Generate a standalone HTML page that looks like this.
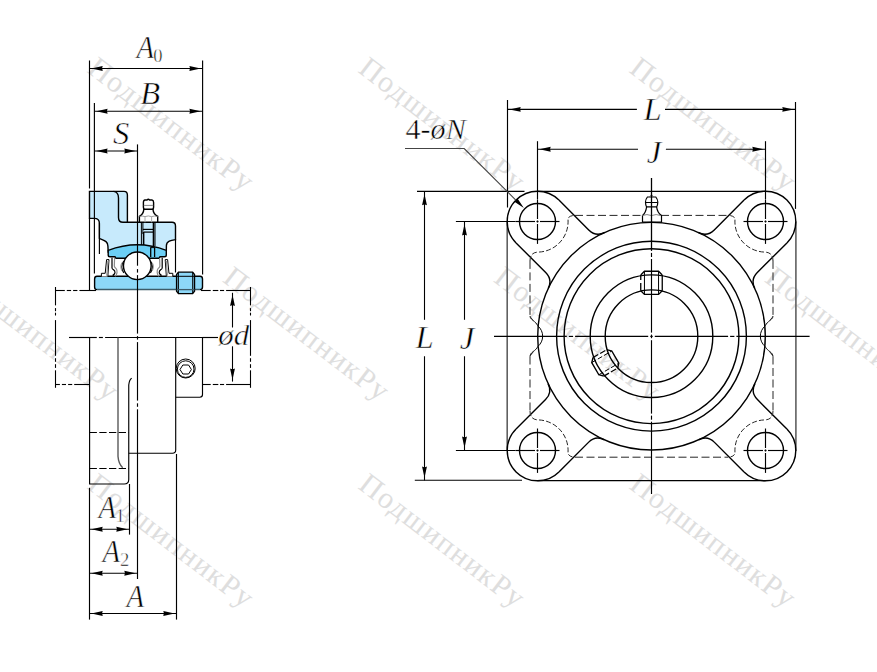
<!DOCTYPE html>
<html><head><meta charset="utf-8"><style>html,body{margin:0;padding:0;background:#fff;width:877px;height:672px;overflow:hidden}svg{display:block}</style></head>
<body><svg width="877" height="672" viewBox="0 0 877 672">
<rect width="877" height="672" fill="#fff"/>
<text x="0" y="0" transform="translate(-320.60,-138.00) rotate(37.4)" font-family="Liberation Serif" font-size="30" fill="#dedede" letter-spacing="1.45">ПодшипникРу</text>
<text x="0" y="0" transform="translate(-49.60,-138.00) rotate(37.4)" font-family="Liberation Serif" font-size="30" fill="#dedede" letter-spacing="1.45">ПодшипникРу</text>
<text x="0" y="0" transform="translate(221.40,-138.00) rotate(37.4)" font-family="Liberation Serif" font-size="30" fill="#dedede" letter-spacing="1.45">ПодшипникРу</text>
<text x="0" y="0" transform="translate(492.40,-138.00) rotate(37.4)" font-family="Liberation Serif" font-size="30" fill="#dedede" letter-spacing="1.45">ПодшипникРу</text>
<text x="0" y="0" transform="translate(763.40,-138.00) rotate(37.4)" font-family="Liberation Serif" font-size="30" fill="#dedede" letter-spacing="1.45">ПодшипникРу</text>
<text x="0" y="0" transform="translate(1034.40,-138.00) rotate(37.4)" font-family="Liberation Serif" font-size="30" fill="#dedede" letter-spacing="1.45">ПодшипникРу</text>
<text x="0" y="0" transform="translate(-185.10,71.50) rotate(37.4)" font-family="Liberation Serif" font-size="30" fill="#dedede" letter-spacing="1.45">ПодшипникРу</text>
<text x="0" y="0" transform="translate(85.90,71.50) rotate(37.4)" font-family="Liberation Serif" font-size="30" fill="#dedede" letter-spacing="1.45">ПодшипникРу</text>
<text x="0" y="0" transform="translate(356.90,71.50) rotate(37.4)" font-family="Liberation Serif" font-size="30" fill="#dedede" letter-spacing="1.45">ПодшипникРу</text>
<text x="0" y="0" transform="translate(627.90,71.50) rotate(37.4)" font-family="Liberation Serif" font-size="30" fill="#dedede" letter-spacing="1.45">ПодшипникРу</text>
<text x="0" y="0" transform="translate(898.90,71.50) rotate(37.4)" font-family="Liberation Serif" font-size="30" fill="#dedede" letter-spacing="1.45">ПодшипникРу</text>
<text x="0" y="0" transform="translate(1169.90,71.50) rotate(37.4)" font-family="Liberation Serif" font-size="30" fill="#dedede" letter-spacing="1.45">ПодшипникРу</text>
<text x="0" y="0" transform="translate(-320.60,281.00) rotate(37.4)" font-family="Liberation Serif" font-size="30" fill="#dedede" letter-spacing="1.45">ПодшипникРу</text>
<text x="0" y="0" transform="translate(-49.60,281.00) rotate(37.4)" font-family="Liberation Serif" font-size="30" fill="#dedede" letter-spacing="1.45">ПодшипникРу</text>
<text x="0" y="0" transform="translate(221.40,281.00) rotate(37.4)" font-family="Liberation Serif" font-size="30" fill="#dedede" letter-spacing="1.45">ПодшипникРу</text>
<text x="0" y="0" transform="translate(492.40,281.00) rotate(37.4)" font-family="Liberation Serif" font-size="30" fill="#dedede" letter-spacing="1.45">ПодшипникРу</text>
<text x="0" y="0" transform="translate(763.40,281.00) rotate(37.4)" font-family="Liberation Serif" font-size="30" fill="#dedede" letter-spacing="1.45">ПодшипникРу</text>
<text x="0" y="0" transform="translate(1034.40,281.00) rotate(37.4)" font-family="Liberation Serif" font-size="30" fill="#dedede" letter-spacing="1.45">ПодшипникРу</text>
<text x="0" y="0" transform="translate(-185.10,487.80) rotate(37.4)" font-family="Liberation Serif" font-size="30" fill="#dedede" letter-spacing="1.45">ПодшипникРу</text>
<text x="0" y="0" transform="translate(85.90,487.80) rotate(37.4)" font-family="Liberation Serif" font-size="30" fill="#dedede" letter-spacing="1.45">ПодшипникРу</text>
<text x="0" y="0" transform="translate(356.90,487.80) rotate(37.4)" font-family="Liberation Serif" font-size="30" fill="#dedede" letter-spacing="1.45">ПодшипникРу</text>
<text x="0" y="0" transform="translate(627.90,487.80) rotate(37.4)" font-family="Liberation Serif" font-size="30" fill="#dedede" letter-spacing="1.45">ПодшипникРу</text>
<text x="0" y="0" transform="translate(898.90,487.80) rotate(37.4)" font-family="Liberation Serif" font-size="30" fill="#dedede" letter-spacing="1.45">ПодшипникРу</text>
<text x="0" y="0" transform="translate(1169.90,487.80) rotate(37.4)" font-family="Liberation Serif" font-size="30" fill="#dedede" letter-spacing="1.45">ПодшипникРу</text>
<text x="0" y="0" transform="translate(-320.60,697.00) rotate(37.4)" font-family="Liberation Serif" font-size="30" fill="#dedede" letter-spacing="1.45">ПодшипникРу</text>
<text x="0" y="0" transform="translate(-49.60,697.00) rotate(37.4)" font-family="Liberation Serif" font-size="30" fill="#dedede" letter-spacing="1.45">ПодшипникРу</text>
<text x="0" y="0" transform="translate(221.40,697.00) rotate(37.4)" font-family="Liberation Serif" font-size="30" fill="#dedede" letter-spacing="1.45">ПодшипникРу</text>
<text x="0" y="0" transform="translate(492.40,697.00) rotate(37.4)" font-family="Liberation Serif" font-size="30" fill="#dedede" letter-spacing="1.45">ПодшипникРу</text>
<text x="0" y="0" transform="translate(763.40,697.00) rotate(37.4)" font-family="Liberation Serif" font-size="30" fill="#dedede" letter-spacing="1.45">ПодшипникРу</text>
<text x="0" y="0" transform="translate(1034.40,697.00) rotate(37.4)" font-family="Liberation Serif" font-size="30" fill="#dedede" letter-spacing="1.45">ПодшипникРу</text>
<line x1="89.50" y1="60.50" x2="89.50" y2="188.50" stroke="#000" stroke-width="1.15" />
<line x1="202.60" y1="60.50" x2="202.60" y2="274.50" stroke="#000" stroke-width="1.15" />
<line x1="94.40" y1="103.00" x2="94.40" y2="273.50" stroke="#000" stroke-width="1.15" />
<line x1="89.50" y1="68.50" x2="202.60" y2="68.50" stroke="#000" stroke-width="1.1" />
<path d="M91.40,68.50 L102.70,66.05 Q101.34,68.50 102.70,70.95 Z" fill="#000"/>
<path d="M200.70,68.50 L189.40,70.95 Q190.76,68.50 189.40,66.05 Z" fill="#000"/>
<line x1="94.40" y1="111.20" x2="202.60" y2="111.20" stroke="#000" stroke-width="1.1" />
<path d="M96.30,111.20 L107.60,108.75 Q106.24,111.20 107.60,113.65 Z" fill="#000"/>
<path d="M200.70,111.20 L189.40,113.65 Q190.76,111.20 189.40,108.75 Z" fill="#000"/>
<line x1="94.40" y1="151.00" x2="137.50" y2="151.00" stroke="#000" stroke-width="1.1" />
<path d="M96.30,151.00 L107.60,148.55 Q106.24,151.00 107.60,153.45 Z" fill="#000"/>
<path d="M135.60,151.00 L124.30,153.45 Q125.66,151.00 124.30,148.55 Z" fill="#000"/>
<path d="M89.5,191.4 L124,191.4 Q127.4,191.4 127.4,195 L127.4,222.3 L172,222.3 Q175.5,222.3 175.5,226 L175.5,239.6 C171,240.2 166.5,240.8 166.4,245.5 L166.3,252 L108.2,252 L107.9,246 C107.9,241 103.5,240.3 99.4,238.4 L99.4,223.5 Q99.4,218.4 94.3,218.4 L89.5,218.4 Z" stroke="#000" stroke-width="1.4" fill="#c7eafc" />
<path d="M113.6,191.4 Q118.5,192 118.5,198 L118.5,217.5 Q118.5,222.3 123,222.3 L127.4,222.3" stroke="#000" stroke-width="1.4" fill="none" />
<line x1="94.40" y1="191.00" x2="94.40" y2="218.40" stroke="#000" stroke-width="1.15" />
<line x1="89.50" y1="218.40" x2="89.50" y2="290.50" stroke="#000" stroke-width="1.15" />
<line x1="99.40" y1="223.00" x2="99.40" y2="254.00" stroke="#000" stroke-width="1.15" />
<line x1="175.50" y1="239.00" x2="175.50" y2="272.50" stroke="#000" stroke-width="1.15" />
<line x1="141.40" y1="222.30" x2="141.40" y2="246.00" stroke="#000" stroke-width="1.0" />
<line x1="155.00" y1="222.30" x2="155.00" y2="246.00" stroke="#000" stroke-width="1.0" />
<line x1="142.90" y1="222.30" x2="142.90" y2="234.00" stroke="#000" stroke-width="1.0" />
<line x1="143.60" y1="232.00" x2="143.60" y2="246.50" stroke="#000" stroke-width="1.6" />
<line x1="153.50" y1="222.30" x2="153.50" y2="246.50" stroke="#000" stroke-width="1.6" />
<line x1="142.90" y1="229.40" x2="153.40" y2="229.40" stroke="#000" stroke-width="1.2" />
<line x1="143.90" y1="232.10" x2="153.40" y2="232.10" stroke="#000" stroke-width="1.2" />
<path d="M108.2,250.3 Q137.5,239.1 166.3,250.3 L166.3,255 Q166.3,256.8 164.5,256.8 L160,256.8 L159,258.3 L116,258.3 L115,256.8 L110,256.8 Q108.2,256.8 108.2,255 Z" stroke="#000" stroke-width="1.4" fill="#6ccff5" />
<line x1="150.70" y1="247.30" x2="150.70" y2="257.00" stroke="#000" stroke-width="1.3" />
<line x1="154.60" y1="247.30" x2="154.60" y2="257.00" stroke="#000" stroke-width="1.3" />
<line x1="150.70" y1="247.60" x2="154.60" y2="247.60" stroke="#000" stroke-width="1.0" />
<path d="M97,276.3 L200,276.3 Q202.5,276.3 202.5,279 L202.5,287 Q202.5,289.6 200,289.6 L97,289.6 Q94.6,289.6 94.6,287 L94.6,279 Q94.6,276.3 97,276.3 Z" stroke="none" stroke-width="0" fill="#8dd8f8" />
<path d="M97,289.6 Q94.6,289.6 94.6,287 L94.6,279 Q94.6,276.3 97,276.3 L200,276.3 Q202.5,276.3 202.5,279 L202.5,287 Q202.5,289.6 200,289.6" stroke="#000" stroke-width="1.4" fill="none" />
<line x1="97.00" y1="289.60" x2="200.00" y2="289.60" stroke="#3d5b68" stroke-width="1.5" />
<g><path d="M101.4,276.5 L101.4,273.3 L105.2,273.3 L106.6,259.6 L109.0,259.6 L107.8,276.5" fill="#fff" stroke="#000" stroke-width="1.0"/><path d="M107.9,261 L106.8,275.8" stroke="#9a9a9a" stroke-width="1.3" fill="none"/><path d="M112.0,257.8 L112.0,268.0 Q112.2,269.3 113.4,269.6 Q115.1,270.4 115.0,272.6 Q114.8,274.3 113.2,274.9 L113.2,276.5" fill="none" stroke="#000" stroke-width="1.2"/><path d="M114.6,258 L114.3,266.2 Q114.6,267.6 116.0,268.4 Q117.3,269.6 117.0,272.6 Q116.6,275.3 115.3,276.3" fill="none" stroke="#8a8a8a" stroke-width="1.2"/><path d="M123.8,261 Q119.6,266.8 123.8,272.8" fill="none" stroke="#000" stroke-width="1.2"/><path d="M121.9,262.8 Q119.9,266.8 121.9,270.8" fill="none" stroke="#9a9a9a" stroke-width="1.1"/></g>
<g transform="translate(274.2,0) scale(-1,1)"><path d="M101.4,276.5 L101.4,273.3 L105.2,273.3 L106.6,259.6 L109.0,259.6 L107.8,276.5" fill="#fff" stroke="#000" stroke-width="1.0"/><path d="M107.9,261 L106.8,275.8" stroke="#9a9a9a" stroke-width="1.3" fill="none"/><path d="M112.0,257.8 L112.0,268.0 Q112.2,269.3 113.4,269.6 Q115.1,270.4 115.0,272.6 Q114.8,274.3 113.2,274.9 L113.2,276.5" fill="none" stroke="#000" stroke-width="1.2"/><path d="M114.6,258 L114.3,266.2 Q114.6,267.6 116.0,268.4 Q117.3,269.6 117.0,272.6 Q116.6,275.3 115.3,276.3" fill="none" stroke="#8a8a8a" stroke-width="1.2"/><path d="M123.8,261 Q119.6,266.8 123.8,272.8" fill="none" stroke="#000" stroke-width="1.2"/><path d="M121.9,262.8 Q119.9,266.8 121.9,270.8" fill="none" stroke="#9a9a9a" stroke-width="1.1"/></g>
<circle cx="137.30" cy="265.80" r="13.85" stroke="#000" stroke-width="1.4" fill="#fff" />
<path d="M178.5,272.1 L192.6,272.1 L194.5,274.5 L194.5,291.2 L192.6,293.6 L178.5,293.6 L176.6,291.2 L176.6,274.5 Z" stroke="#000" stroke-width="1.4" fill="#8dd8f8" />
<line x1="178.40" y1="272.10" x2="178.40" y2="293.60" stroke="#000" stroke-width="1.0" />
<line x1="192.70" y1="272.10" x2="192.70" y2="293.60" stroke="#000" stroke-width="1.0" />
<line x1="176.60" y1="276.30" x2="194.50" y2="276.30" stroke="#000" stroke-width="1.0" />
<line x1="176.60" y1="289.60" x2="194.50" y2="289.60" stroke="#3d5b68" stroke-width="1.3" />
<path d="M139.4,222.3 L139.4,216.3 Q143.6,214 143.8,209.2 L153.0,209.2 Q153.2,214 157.7,216.3 L157.7,222.3 Z" stroke="#000" stroke-width="1.4" fill="#fff" />
<path d="M139.4,216.6 Q142,215.5 145,216.6 Q148.3,215.3 151.6,216.6 Q154.5,215.5 157.7,216.6" stroke="#888" stroke-width="0.8" fill="none" />
<line x1="145.00" y1="216.60" x2="145.00" y2="222.30" stroke="#aaa" stroke-width="1.0" />
<line x1="151.60" y1="216.60" x2="151.60" y2="222.30" stroke="#aaa" stroke-width="1.0" />
<path d="M145,200 L147,200 Q148.3,198.6 149.6,200 L152,200 Q153.6,200.2 153.6,202.5 L153.6,207 Q153.6,209.2 152,209.2 L145,209.2 Q143.4,209.2 143.4,207 L143.4,202.5 Q143.4,200.2 145,200 Z" stroke="#000" stroke-width="1.4" fill="#fff" />
<line x1="143.80" y1="205.40" x2="153.20" y2="205.40" stroke="#888" stroke-width="1.0" />
<line x1="137.50" y1="144.40" x2="137.50" y2="265.70" stroke="#000" stroke-width="1.15" />
<line x1="137.50" y1="269.10" x2="137.50" y2="272.60" stroke="#000" stroke-width="1.15" />
<line x1="137.50" y1="275.10" x2="137.50" y2="333.60" stroke="#000" stroke-width="1.15" />
<line x1="137.50" y1="336.10" x2="137.50" y2="339.60" stroke="#000" stroke-width="1.15" />
<line x1="137.50" y1="342.10" x2="137.50" y2="400.60" stroke="#000" stroke-width="1.15" />
<line x1="137.50" y1="403.30" x2="137.50" y2="406.80" stroke="#000" stroke-width="1.15" />
<line x1="137.50" y1="409.30" x2="137.50" y2="579.00" stroke="#000" stroke-width="1.15" />
<line x1="55.50" y1="290.50" x2="64.80" y2="290.50" stroke="#000" stroke-width="1.1" />
<line x1="66.80" y1="290.50" x2="71.10" y2="290.50" stroke="#000" stroke-width="1.1" />
<line x1="73.10" y1="290.50" x2="77.40" y2="290.50" stroke="#000" stroke-width="1.1" />
<line x1="79.40" y1="290.50" x2="96.00" y2="290.50" stroke="#000" stroke-width="1.1" />
<line x1="201.00" y1="290.50" x2="210.70" y2="290.50" stroke="#000" stroke-width="1.1" />
<line x1="212.80" y1="290.50" x2="218.30" y2="290.50" stroke="#000" stroke-width="1.1" />
<line x1="220.00" y1="290.50" x2="224.10" y2="290.50" stroke="#000" stroke-width="1.1" />
<line x1="226.10" y1="290.50" x2="250.50" y2="290.50" stroke="#000" stroke-width="1.1" />
<line x1="55.50" y1="384.50" x2="59.90" y2="384.50" stroke="#000" stroke-width="1.1" />
<line x1="61.90" y1="384.50" x2="66.00" y2="384.50" stroke="#000" stroke-width="1.1" />
<line x1="68.10" y1="384.50" x2="72.20" y2="384.50" stroke="#000" stroke-width="1.1" />
<line x1="74.20" y1="384.50" x2="89.70" y2="384.50" stroke="#000" stroke-width="1.1" />
<line x1="202.50" y1="384.50" x2="210.70" y2="384.50" stroke="#000" stroke-width="1.1" />
<line x1="212.80" y1="384.50" x2="218.30" y2="384.50" stroke="#000" stroke-width="1.1" />
<line x1="220.00" y1="384.50" x2="224.10" y2="384.50" stroke="#000" stroke-width="1.1" />
<line x1="226.10" y1="384.50" x2="250.50" y2="384.50" stroke="#000" stroke-width="1.1" />
<line x1="55.50" y1="287.00" x2="55.50" y2="305.40" stroke="#000" stroke-width="1.1" />
<line x1="55.50" y1="308.10" x2="55.50" y2="311.20" stroke="#000" stroke-width="1.1" />
<line x1="55.50" y1="312.70" x2="55.50" y2="315.50" stroke="#000" stroke-width="1.1" />
<line x1="55.50" y1="320.10" x2="55.50" y2="355.80" stroke="#000" stroke-width="1.1" />
<line x1="55.50" y1="358.20" x2="55.50" y2="361.80" stroke="#000" stroke-width="1.1" />
<line x1="55.50" y1="364.20" x2="55.50" y2="367.90" stroke="#000" stroke-width="1.1" />
<line x1="55.50" y1="370.30" x2="55.50" y2="387.80" stroke="#000" stroke-width="1.1" />
<line x1="250.50" y1="287.00" x2="250.50" y2="305.40" stroke="#000" stroke-width="1.1" />
<line x1="250.50" y1="308.10" x2="250.50" y2="311.20" stroke="#000" stroke-width="1.1" />
<line x1="250.50" y1="312.70" x2="250.50" y2="315.50" stroke="#000" stroke-width="1.1" />
<line x1="250.50" y1="320.10" x2="250.50" y2="355.80" stroke="#000" stroke-width="1.1" />
<line x1="250.50" y1="358.20" x2="250.50" y2="361.80" stroke="#000" stroke-width="1.1" />
<line x1="250.50" y1="364.20" x2="250.50" y2="367.90" stroke="#000" stroke-width="1.1" />
<line x1="250.50" y1="370.30" x2="250.50" y2="387.80" stroke="#000" stroke-width="1.1" />
<line x1="69.00" y1="337.50" x2="96.80" y2="337.50" stroke="#000" stroke-width="1.15" />
<line x1="98.90" y1="337.50" x2="102.90" y2="337.50" stroke="#000" stroke-width="1.15" />
<line x1="105.10" y1="337.50" x2="217.90" y2="337.50" stroke="#000" stroke-width="1.15" />
<path d="M89.6,337.5 L89.6,484 L124.2,484 Q128.75,484 128.75,479.5 L128.75,385 Q129.3,379.5 131.7,378.2" stroke="#000" stroke-width="1.15" fill="none" />
<path d="M118.0,337.5 L118.0,456.4 Q118.6,464 122.7,467.7" stroke="#5a5a5a" stroke-width="1.4" fill="none" />
<line x1="89.60" y1="432.50" x2="128.75" y2="432.50" stroke="#000" stroke-width="1.15" stroke-dasharray="7.3 2.4"/>
<line x1="89.60" y1="468.50" x2="128.75" y2="468.50" stroke="#000" stroke-width="1.15" stroke-dasharray="7.3 2.4"/>
<path d="M175.7,337.5 L175.7,450 Q175.7,453.2 172.5,453.2 L128.75,453.2" stroke="#000" stroke-width="1.15" fill="none" />
<path d="M202.5,337.5 L202.5,394.5 Q202.5,397.2 199.8,397.2 L175.7,397.2" stroke="#000" stroke-width="1.15" fill="none" />
<circle cx="185.70" cy="368.50" r="9.50" stroke="#000" stroke-width="1.0" fill="none" />
<circle cx="185.70" cy="369.10" r="8.30" stroke="#000" stroke-width="1.0" fill="none" />
<polygon points="191.40,369.50 188.55,374.00 182.85,374.00 180.00,369.50 182.85,365.00 188.55,365.00" fill="none" stroke="#000" stroke-width="1.0"/>
<line x1="89.50" y1="487.80" x2="89.50" y2="619.60" stroke="#000" stroke-width="1.15" />
<line x1="129.50" y1="484.00" x2="129.50" y2="534.60" stroke="#000" stroke-width="1.15" />
<line x1="176.50" y1="454.00" x2="176.50" y2="619.60" stroke="#000" stroke-width="1.15" />
<line x1="89.50" y1="529.20" x2="129.50" y2="529.20" stroke="#000" stroke-width="1.1" />
<path d="M91.40,529.20 L102.70,526.75 Q101.34,529.20 102.70,531.65 Z" fill="#000"/>
<path d="M127.60,529.20 L116.30,531.65 Q117.66,529.20 116.30,526.75 Z" fill="#000"/>
<line x1="89.50" y1="573.20" x2="137.50" y2="573.20" stroke="#000" stroke-width="1.1" />
<path d="M91.40,573.20 L102.70,570.75 Q101.34,573.20 102.70,575.65 Z" fill="#000"/>
<path d="M135.60,573.20 L124.30,575.65 Q125.66,573.20 124.30,570.75 Z" fill="#000"/>
<line x1="89.50" y1="613.50" x2="176.50" y2="613.50" stroke="#000" stroke-width="1.1" />
<path d="M91.40,613.50 L102.70,611.05 Q101.34,613.50 102.70,615.95 Z" fill="#000"/>
<path d="M174.60,613.50 L163.30,615.95 Q164.66,613.50 163.30,611.05 Z" fill="#000"/>
<line x1="232.50" y1="292.80" x2="232.50" y2="327.50" stroke="#000" stroke-width="1.1" />
<line x1="232.50" y1="346.30" x2="232.50" y2="381.60" stroke="#000" stroke-width="1.1" />
<path d="M232.50,294.70 L234.95,306.00 Q232.50,304.64 230.05,306.00 Z" fill="#000"/>
<path d="M232.50,379.70 L230.05,368.40 Q232.50,369.76 234.95,368.40 Z" fill="#000"/>
<line x1="202.50" y1="337.50" x2="217.90" y2="337.50" stroke="#000" stroke-width="1.15" />
<line x1="537.50" y1="191.40" x2="765.50" y2="191.40" stroke="#000" stroke-width="1.4" />
<line x1="537.50" y1="480.60" x2="765.50" y2="480.60" stroke="#000" stroke-width="1.4" />
<line x1="507.20" y1="221.40" x2="507.20" y2="451.00" stroke="#606060" stroke-width="1.6" />
<line x1="795.90" y1="221.40" x2="795.90" y2="451.00" stroke="#606060" stroke-width="1.6" />
<path d="M558.93,200.07 A30.3,30.3 0 0 0 516.07,242.93" stroke="#000" stroke-width="1.4" fill="none" />
<path d="M558.93,200.07 L588.74,229.89 Q595.81,236.96 604.73,232.45" stroke="#000" stroke-width="1.4" fill="none" />
<path d="M516.07,242.93 L545.69,272.54 Q552.76,279.62 548.18,288.50" stroke="#000" stroke-width="1.4" fill="none" />
<path d="M744.07,200.07 A30.3,30.3 0 0 1 786.93,242.93" stroke="#000" stroke-width="1.4" fill="none" />
<path d="M744.07,200.07 L714.26,229.89 Q707.19,236.96 698.27,232.45" stroke="#000" stroke-width="1.4" fill="none" />
<path d="M786.93,242.93 L757.31,272.54 Q750.24,279.62 754.82,288.50" stroke="#000" stroke-width="1.4" fill="none" />
<path d="M558.93,471.93 A30.3,30.3 0 0 1 516.07,429.07" stroke="#000" stroke-width="1.4" fill="none" />
<path d="M558.93,471.93 L588.48,442.37 Q595.55,435.30 604.47,439.83" stroke="#000" stroke-width="1.4" fill="none" />
<path d="M516.07,429.07 L545.55,399.60 Q552.62,392.53 548.06,383.63" stroke="#000" stroke-width="1.4" fill="none" />
<path d="M744.07,471.93 A30.3,30.3 0 0 0 786.93,429.07" stroke="#000" stroke-width="1.4" fill="none" />
<path d="M744.07,471.93 L714.52,442.37 Q707.45,435.30 698.53,439.83" stroke="#000" stroke-width="1.4" fill="none" />
<path d="M786.93,429.07 L757.45,399.60 Q750.38,392.53 754.94,383.63" stroke="#000" stroke-width="1.4" fill="none" />
<circle cx="537.50" cy="221.50" r="18.00" stroke="#000" stroke-width="1.4" fill="none" />
<circle cx="537.50" cy="450.50" r="18.00" stroke="#000" stroke-width="1.4" fill="none" />
<circle cx="765.50" cy="221.50" r="18.00" stroke="#000" stroke-width="1.4" fill="none" />
<circle cx="765.50" cy="450.50" r="18.00" stroke="#000" stroke-width="1.4" fill="none" />
<circle cx="651.50" cy="336.20" r="113.80" stroke="#000" stroke-width="1.4" fill="none" />
<circle cx="651.50" cy="336.20" r="94.90" stroke="#000" stroke-width="1.4" fill="none" />
<circle cx="651.50" cy="336.20" r="87.40" stroke="#000" stroke-width="1.4" fill="none" />
<circle cx="651.50" cy="336.20" r="61.30" stroke="#000" stroke-width="1.4" fill="none" />
<circle cx="651.50" cy="336.20" r="46.30" stroke="#000" stroke-width="1.4" fill="none" />
<path d="M537.9,326 A13.3,13.3 0 0 1 537.9,346.4" stroke="#000" stroke-width="1.0" fill="none" />
<path d="M765.1,326 A13.3,13.3 0 0 0 765.1,346.4" stroke="#000" stroke-width="1.0" fill="none" />
<line x1="575.00" y1="215.40" x2="642.00" y2="215.40" stroke="#262626" stroke-width="1.0" stroke-dasharray="8 3.5"/>
<line x1="661.00" y1="215.40" x2="728.00" y2="215.40" stroke="#262626" stroke-width="1.0" stroke-dasharray="8 3.5"/>
<line x1="575.00" y1="457.20" x2="728.00" y2="457.20" stroke="#262626" stroke-width="1.0" stroke-dasharray="8 3.5"/>
<line x1="530.00" y1="260.90" x2="530.00" y2="316.00" stroke="#262626" stroke-width="1.0" stroke-dasharray="8 3.5"/>
<line x1="530.00" y1="356.50" x2="530.00" y2="411.50" stroke="#262626" stroke-width="1.0" stroke-dasharray="8 3.5"/>
<line x1="773.00" y1="260.90" x2="773.00" y2="316.00" stroke="#262626" stroke-width="1.0" stroke-dasharray="8 3.5"/>
<line x1="773.00" y1="356.50" x2="773.00" y2="411.50" stroke="#262626" stroke-width="1.0" stroke-dasharray="8 3.5"/>
<path d="M530.00,261.00 Q530.00,252.70 537.50,252.10 A30.6,30.6 0 0 0 567.93,218.30 Q569.90,215.40 575.00,215.40" stroke="#262626" stroke-width="1.0" fill="none" stroke-dasharray="5 2.2"/>
<path d="M773.00,261.00 Q773.00,252.70 765.50,252.10 A30.6,30.6 0 0 1 735.07,218.30 Q733.10,215.40 728.00,215.40" stroke="#262626" stroke-width="1.0" fill="none" stroke-dasharray="5 2.2"/>
<path d="M530.00,411.00 Q530.00,419.30 537.50,419.90 A30.6,30.6 0 0 1 567.93,453.70 Q569.90,457.20 575.00,457.20" stroke="#262626" stroke-width="1.0" fill="none" stroke-dasharray="5 2.2"/>
<path d="M773.00,411.00 Q773.00,419.30 765.50,419.90 A30.6,30.6 0 0 0 735.07,453.70 Q733.10,457.20 728.00,457.20" stroke="#262626" stroke-width="1.0" fill="none" stroke-dasharray="5 2.2"/>
<path d="M530,316 C530,320 536,321 537.9,326" stroke="#262626" stroke-width="1.0" fill="stroke-dasharray="8 3.5"" />
<path d="M530,356.5 C530,352 536,351 537.9,346.4" stroke="#262626" stroke-width="1.0" fill="stroke-dasharray="8 3.5"" />
<path d="M773,316 C773,320 767,321 765.1,326" stroke="#262626" stroke-width="1.0" fill="stroke-dasharray="8 3.5"" />
<path d="M773,356.5 C773,352 767,351 765.1,346.4" stroke="#262626" stroke-width="1.0" fill="stroke-dasharray="8 3.5"" />
<line x1="494.00" y1="336.40" x2="566.80" y2="336.40" stroke="#000" stroke-width="1.15" />
<line x1="568.80" y1="336.40" x2="573.10" y2="336.40" stroke="#000" stroke-width="1.15" />
<line x1="575.10" y1="336.40" x2="648.20" y2="336.40" stroke="#000" stroke-width="1.15" />
<line x1="650.30" y1="336.40" x2="652.70" y2="336.40" stroke="#000" stroke-width="1.15" />
<line x1="654.80" y1="336.40" x2="728.10" y2="336.40" stroke="#000" stroke-width="1.15" />
<line x1="730.10" y1="336.40" x2="734.40" y2="336.40" stroke="#000" stroke-width="1.15" />
<line x1="736.40" y1="336.40" x2="809.60" y2="336.40" stroke="#000" stroke-width="1.15" />
<line x1="651.50" y1="178.00" x2="651.50" y2="250.70" stroke="#000" stroke-width="1.15" />
<line x1="651.50" y1="252.90" x2="651.50" y2="257.00" stroke="#000" stroke-width="1.15" />
<line x1="651.50" y1="259.00" x2="651.50" y2="332.60" stroke="#000" stroke-width="1.15" />
<line x1="651.50" y1="334.60" x2="651.50" y2="338.20" stroke="#000" stroke-width="1.15" />
<line x1="651.50" y1="340.20" x2="651.50" y2="413.60" stroke="#000" stroke-width="1.15" />
<line x1="651.50" y1="415.60" x2="651.50" y2="419.70" stroke="#000" stroke-width="1.15" />
<line x1="651.50" y1="421.70" x2="651.50" y2="494.00" stroke="#000" stroke-width="1.15" />
<line x1="515.50" y1="221.50" x2="535.00" y2="221.50" stroke="#000" stroke-width="1.15" />
<line x1="536.50" y1="221.50" x2="538.50" y2="221.50" stroke="#000" stroke-width="1.15" />
<line x1="540.00" y1="221.50" x2="559.50" y2="221.50" stroke="#000" stroke-width="1.15" />
<line x1="537.50" y1="199.50" x2="537.50" y2="219.00" stroke="#000" stroke-width="1.15" />
<line x1="537.50" y1="220.50" x2="537.50" y2="222.50" stroke="#000" stroke-width="1.15" />
<line x1="537.50" y1="224.00" x2="537.50" y2="243.90" stroke="#000" stroke-width="1.15" />
<line x1="515.50" y1="450.50" x2="535.00" y2="450.50" stroke="#000" stroke-width="1.15" />
<line x1="536.50" y1="450.50" x2="538.50" y2="450.50" stroke="#000" stroke-width="1.15" />
<line x1="540.00" y1="450.50" x2="559.50" y2="450.50" stroke="#000" stroke-width="1.15" />
<line x1="537.50" y1="428.50" x2="537.50" y2="448.00" stroke="#000" stroke-width="1.15" />
<line x1="537.50" y1="449.50" x2="537.50" y2="451.50" stroke="#000" stroke-width="1.15" />
<line x1="537.50" y1="453.00" x2="537.50" y2="472.90" stroke="#000" stroke-width="1.15" />
<line x1="743.50" y1="221.50" x2="763.00" y2="221.50" stroke="#000" stroke-width="1.15" />
<line x1="764.50" y1="221.50" x2="766.50" y2="221.50" stroke="#000" stroke-width="1.15" />
<line x1="768.00" y1="221.50" x2="787.50" y2="221.50" stroke="#000" stroke-width="1.15" />
<line x1="765.50" y1="199.50" x2="765.50" y2="219.00" stroke="#000" stroke-width="1.15" />
<line x1="765.50" y1="220.50" x2="765.50" y2="222.50" stroke="#000" stroke-width="1.15" />
<line x1="765.50" y1="224.00" x2="765.50" y2="243.90" stroke="#000" stroke-width="1.15" />
<line x1="743.50" y1="450.50" x2="763.00" y2="450.50" stroke="#000" stroke-width="1.15" />
<line x1="764.50" y1="450.50" x2="766.50" y2="450.50" stroke="#000" stroke-width="1.15" />
<line x1="768.00" y1="450.50" x2="787.50" y2="450.50" stroke="#000" stroke-width="1.15" />
<line x1="765.50" y1="428.50" x2="765.50" y2="448.00" stroke="#000" stroke-width="1.15" />
<line x1="765.50" y1="449.50" x2="765.50" y2="451.50" stroke="#000" stroke-width="1.15" />
<line x1="765.50" y1="453.00" x2="765.50" y2="472.90" stroke="#000" stroke-width="1.15" />
<path d="M642.5,222.2 L642.5,215.4 Q645.8,213 646.6,206.9 M656.6,206.9 Q657.4,213 661.5,215.4 L661.5,222.2 L642.5,222.2" stroke="#000" stroke-width="1.2" fill="none" />
<path d="M642.2,215.6 Q647,213.5 651.5,215.6 Q656,213.5 661.0,215.6" stroke="#777" stroke-width="0.9" fill="none" />
<path d="M647.4,197 L655.8,197 Q657.8,199.5 657.8,202 Q657.8,205 656.6,206.9 L646.6,206.9 Q645.5,205 645.5,202 Q645.5,199.5 647.4,197 Z" stroke="#000" stroke-width="1.2" fill="none" />
<line x1="645.60" y1="202.50" x2="657.70" y2="202.50" stroke="#000" stroke-width="1.0" />
<path d="M649.6,197 L651.5,194.6 L653.4,197" stroke="#555" stroke-width="0.9" fill="none" />
<line x1="651.50" y1="178.00" x2="651.50" y2="250.70" stroke="#000" stroke-width="1.15" />
<path d="M640.75,274.90 L644.45,271.30 L658.55,271.30 L662.25,274.90" stroke="#000" stroke-width="1.4" fill="none" />
<path d="M640.75,290.80 L644.45,294.40 L658.55,294.40 L662.25,290.80" stroke="#000" stroke-width="1.4" fill="none" />
<line x1="640.75" y1="274.90" x2="640.75" y2="290.80" stroke="#000" stroke-width="1.3" stroke-dasharray="5 3 20"/>
<line x1="644.45" y1="271.30" x2="644.45" y2="294.40" stroke="#000" stroke-width="1.0" />
<line x1="662.25" y1="274.90" x2="662.25" y2="290.80" stroke="#000" stroke-width="1.3" />
<line x1="658.55" y1="271.30" x2="658.55" y2="294.40" stroke="#000" stroke-width="1.0" />
<path d="M603.79,376.16 L598.82,374.76 L591.77,362.54 L593.04,357.54" stroke="#000" stroke-width="1.4" fill="none" />
<path d="M617.56,368.21 L618.83,363.21 L611.78,350.99 L606.81,349.59" stroke="#000" stroke-width="1.4" fill="none" />
<line x1="603.79" y1="376.16" x2="617.56" y2="368.21" stroke="#000" stroke-width="1.3" stroke-dasharray="6 2.2"/>
<line x1="598.82" y1="374.76" x2="618.83" y2="363.21" stroke="#000" stroke-width="1.0" stroke-dasharray="5 2"/>
<line x1="593.04" y1="357.54" x2="606.81" y2="349.59" stroke="#000" stroke-width="1.3" stroke-dasharray="6 2.2"/>
<line x1="591.77" y1="362.54" x2="611.78" y2="350.99" stroke="#000" stroke-width="1.0" stroke-dasharray="5 2"/>
<line x1="507.50" y1="100.00" x2="507.50" y2="207.50" stroke="#000" stroke-width="1.15" />
<line x1="795.50" y1="102.00" x2="795.50" y2="208.90" stroke="#000" stroke-width="1.15" />
<line x1="507.50" y1="109.40" x2="636.90" y2="109.40" stroke="#000" stroke-width="1.1" />
<line x1="665.00" y1="109.40" x2="795.50" y2="109.40" stroke="#000" stroke-width="1.1" />
<path d="M509.40,109.40 L520.70,106.95 Q519.34,109.40 520.70,111.85 Z" fill="#000"/>
<path d="M793.60,109.40 L782.30,111.85 Q783.66,109.40 782.30,106.95 Z" fill="#000"/>
<line x1="537.50" y1="141.20" x2="537.50" y2="199.40" stroke="#000" stroke-width="1.15" />
<line x1="765.50" y1="141.20" x2="765.50" y2="199.40" stroke="#000" stroke-width="1.15" />
<line x1="537.50" y1="149.20" x2="638.00" y2="149.20" stroke="#000" stroke-width="1.1" />
<line x1="665.90" y1="149.20" x2="765.50" y2="149.20" stroke="#000" stroke-width="1.1" />
<path d="M539.40,149.20 L550.70,146.75 Q549.34,149.20 550.70,151.65 Z" fill="#000"/>
<path d="M763.60,149.20 L752.30,151.65 Q753.66,149.20 752.30,146.75 Z" fill="#000"/>
<line x1="417.00" y1="191.40" x2="524.50" y2="191.40" stroke="#000" stroke-width="1.15" />
<line x1="414.80" y1="480.20" x2="522.00" y2="480.20" stroke="#000" stroke-width="1.15" />
<line x1="424.50" y1="191.40" x2="424.50" y2="319.80" stroke="#000" stroke-width="1.1" />
<line x1="424.50" y1="356.25" x2="424.50" y2="480.40" stroke="#000" stroke-width="1.1" />
<path d="M424.50,194.00 L426.95,205.30 Q424.50,203.94 422.05,205.30 Z" fill="#000"/>
<path d="M424.50,477.80 L422.05,466.50 Q424.50,467.86 426.95,466.50 Z" fill="#000"/>
<line x1="455.90" y1="221.50" x2="515.50" y2="221.50" stroke="#000" stroke-width="1.15" />
<line x1="455.90" y1="450.50" x2="515.50" y2="450.50" stroke="#000" stroke-width="1.15" />
<line x1="464.50" y1="221.50" x2="464.50" y2="319.80" stroke="#000" stroke-width="1.1" />
<line x1="464.50" y1="356.25" x2="464.50" y2="450.50" stroke="#000" stroke-width="1.1" />
<path d="M464.50,224.10 L466.95,235.40 Q464.50,234.04 462.05,235.40 Z" fill="#000"/>
<path d="M464.50,447.90 L462.05,436.60 Q464.50,437.96 466.95,436.60 Z" fill="#000"/>
<path d="M405,148.5 L464.2,148.5 L520.5,204.8" stroke="#444" stroke-width="1.15" fill="none" />
<path d="M523.86,207.96 L514.10,201.45 Q516.70,200.80 517.35,198.20 Z" fill="#000"/>
<text x="136.46" y="58.19" font-family="Liberation Serif" font-style="italic" font-size="31.00" fill="#000" stroke="#fff" stroke-width="0.5" transform="translate(136.46 0) scale(0.930 1) translate(-136.46 0)">A</text>
<text x="153.34" y="61.93" font-family="Liberation Serif" font-style="normal" font-size="18.50" fill="#000" stroke="#fff" stroke-width="0.5">0</text>
<text x="140.38" y="104.25" font-family="Liberation Serif" font-style="italic" font-size="31.00" fill="#000" stroke="#fff" stroke-width="0.5" transform="translate(140.38 0) scale(1.050 1) translate(-140.38 0)">B</text>
<text x="113.01" y="144.25" font-family="Liberation Serif" font-style="italic" font-size="31.00" fill="#000" stroke="#fff" stroke-width="0.5" transform="translate(113.01 0) scale(1.050 1) translate(-113.01 0)">S</text>
<text x="98.61" y="518.24" font-family="Liberation Serif" font-style="italic" font-size="31.00" fill="#000" stroke="#fff" stroke-width="0.5" transform="translate(98.61 0) scale(0.930 1) translate(-98.61 0)">A</text>
<text x="115.46" y="522.00" font-family="Liberation Serif" font-style="normal" font-size="18.50" fill="#000" stroke="#fff" stroke-width="0.5">1</text>
<text x="102.46" y="562.19" font-family="Liberation Serif" font-style="italic" font-size="31.00" fill="#000" stroke="#fff" stroke-width="0.5" transform="translate(102.46 0) scale(0.930 1) translate(-102.46 0)">A</text>
<text x="119.90" y="566.18" font-family="Liberation Serif" font-style="normal" font-size="18.50" fill="#000" stroke="#fff" stroke-width="0.5">2</text>
<text x="126.51" y="606.59" font-family="Liberation Serif" font-style="italic" font-size="31.00" fill="#000" stroke="#fff" stroke-width="0.5" transform="translate(126.51 0) scale(0.930 1) translate(-126.51 0)">A</text>
<text x="218.19" y="344.91" font-family="Liberation Serif" font-style="italic" font-size="30.00" fill="#000" stroke="#fff" stroke-width="0.5" transform="translate(218.19 0) scale(1.030 1) translate(-218.19 0)">ød</text>
<text x="643.45" y="120.35" font-family="Liberation Serif" font-style="italic" font-size="31.00" fill="#000" stroke="#fff" stroke-width="0.5" transform="translate(643.45 0) scale(1.060 1) translate(-643.45 0)">L</text>
<text x="646.74" y="162.80" font-family="Liberation Serif" font-style="italic" font-size="31.00" fill="#000" stroke="#fff" stroke-width="0.5" transform="translate(646.74 0) scale(1.060 1) translate(-646.74 0)">J</text>
<text x="415.60" y="348.35" font-family="Liberation Serif" font-style="italic" font-size="31.00" fill="#000" stroke="#fff" stroke-width="0.5" transform="translate(415.60 0) scale(1.060 1) translate(-415.60 0)">L</text>
<text x="459.84" y="348.95" font-family="Liberation Serif" font-style="italic" font-size="31.00" fill="#000" stroke="#fff" stroke-width="0.5" transform="translate(459.84 0) scale(1.060 1) translate(-459.84 0)">J</text>
<text x="405.54" y="139.46" font-family="Liberation Serif" font-style="normal" font-size="29.50" fill="#000" stroke="#fff" stroke-width="0.5" transform="translate(405.54 0) scale(1.020 1) translate(-405.54 0)">4-<tspan font-style="italic">øN</tspan></text>
</svg></body></html>
